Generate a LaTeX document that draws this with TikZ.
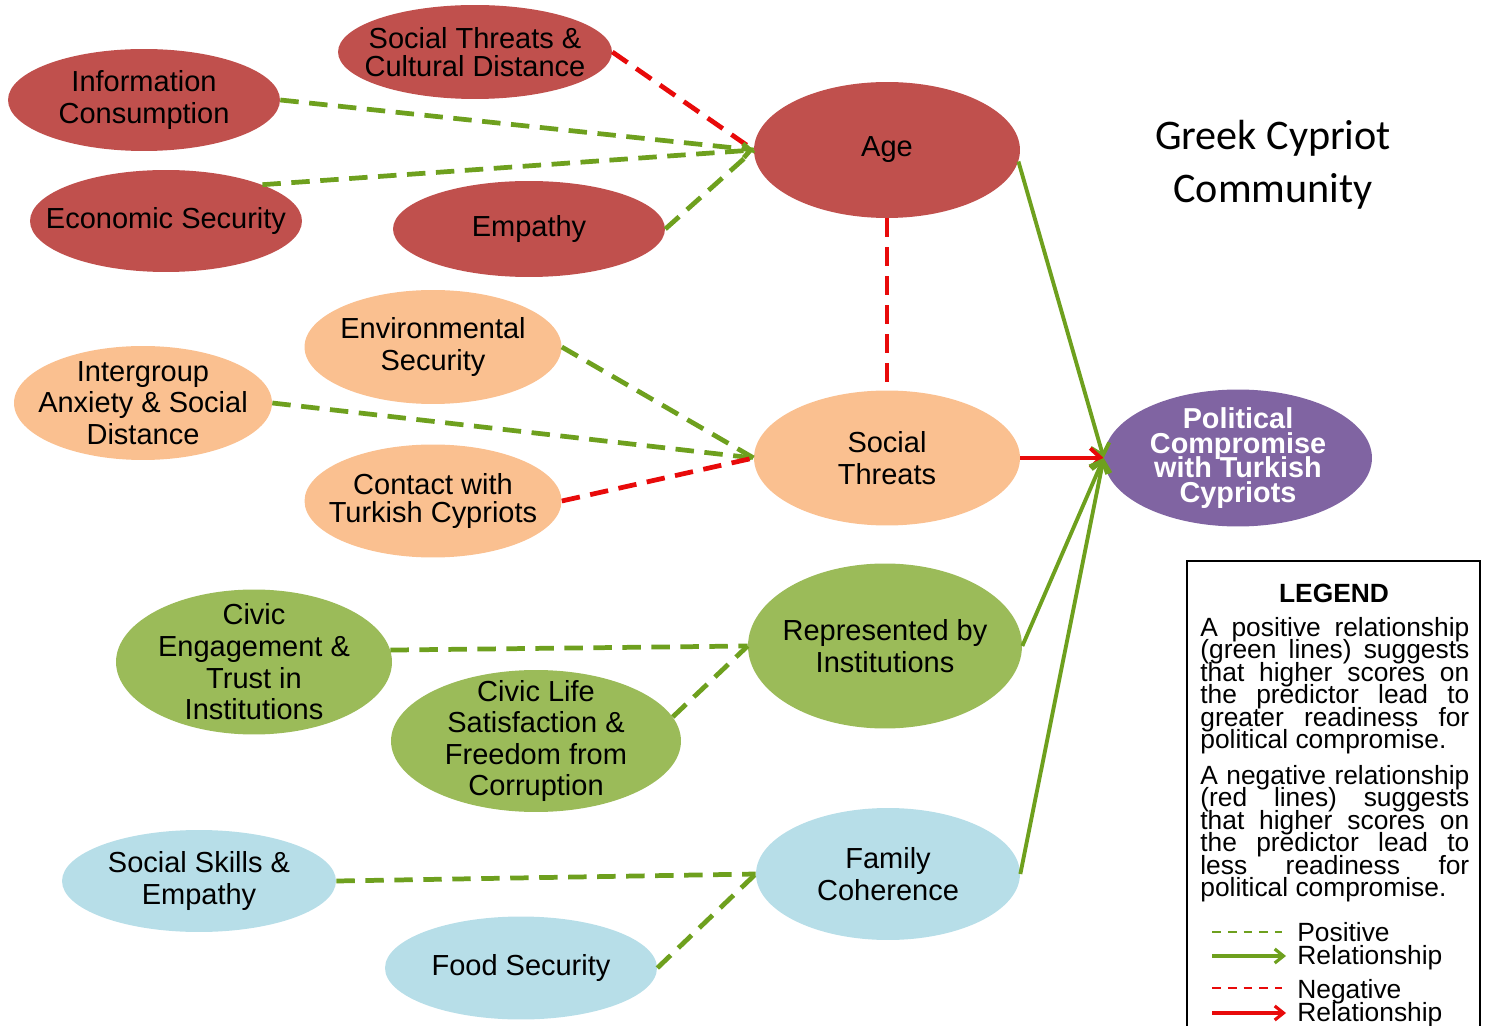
\documentclass[tikz,border=0pt]{standalone}
\usepackage{fontspec}
\setmainfont{Liberation Sans}
\newfontfamily\titlefont{Carlito}
\usetikzlibrary{shapes.geometric,arrows.meta}

\definecolor{nodered}{HTML}{C0504D}
\definecolor{nodeorange}{HTML}{FAC090}
\definecolor{nodegreen}{HTML}{9BBB59}
\definecolor{nodeblue}{HTML}{B7DEE8}
\definecolor{nodepurple}{HTML}{8064A2}
\definecolor{posline}{RGB}{110,160,30}
\definecolor{negline}{RGB}{232,10,10}

% let lines sit closer than their letters allow
\newcommand{\tightlines}{\lineskiplimit=-20pt\relax\lineskip=0pt\relax}

\begin{document}
\begin{tikzpicture}[x=0.02cm, y=-0.02cm,
    blob/.style={ellipse, inner sep=0pt},
    lbl/.style={font=\fontsize{16.5}{18}\selectfont, align=center},
    posdash/.style={draw=posline, line width=2.7pt, dash pattern=on 10.5pt off 6pt},
    negdash/.style={draw=negline, line width=2.7pt, dash pattern=on 10.5pt off 6pt},
    posarrow/.style={draw=posline, line width=2.2pt, -{Straight Barb[length=6pt,width=11pt]}},
    negarrow/.style={draw=negline, line width=2.2pt, -{Straight Barb[length=6pt,width=11pt]}},
    legtext/.style={text width=5.38cm, align=justify, inner sep=0pt,
      font=\fontsize{15}{12.8}\selectfont\tightlines},
    keytext/.style={align=left, inner sep=0pt,
      font=\fontsize{15}{12.8}\selectfont\tightlines}]
  \useasboundingbox (0,0) rectangle (1490,1026);

  % predictors of age
  \node[blob, fill=nodered, minimum width=5.48cm, minimum height=1.88cm,
    label={[lbl, font=\fontsize{16.5}{16}\selectfont]center:Social Threats \&\\Cultural Distance}] (stcd) at (475,52) {};
  \node[blob, fill=nodered, minimum width=5.44cm, minimum height=2.04cm,
    label={[lbl]center:Information\\Consumption}] (info) at (144,100) {};
  \node[blob, fill=nodered, minimum width=5.44cm, minimum height=2.04cm,
    label={[lbl]center:Economic Security}] (econ) at (166,221) {};
  \node[blob, fill=nodered, minimum width=5.44cm, minimum height=1.92cm,
    label={[lbl]center:Empathy}] (emp) at (529,229) {};
  \node[blob, fill=nodered, minimum width=5.32cm, minimum height=2.72cm,
    label={[lbl]center:Age}] (age) at (887,150) {};

  % social threats group
  \node[blob, fill=nodeorange, minimum width=5.14cm, minimum height=2.28cm,
    label={[lbl]center:Environmental\\Security}] (env) at (433,347) {};
  \node[blob, fill=nodeorange, minimum width=5.16cm, minimum height=2.28cm,
    label={[lbl]center:Intergroup\\Anxiety \& Social\\Distance}] (anx) at (143,403) {};
  \node[blob, fill=nodeorange, minimum width=5.14cm, minimum height=2.26cm,
    label={[lbl, font=\fontsize{16.5}{16}\selectfont]center:Contact with\\Turkish Cypriots}] (contact) at (433,501) {};
  \node[blob, fill=nodeorange, minimum width=5.32cm, minimum height=2.70cm,
    label={[lbl]center:Social\\Threats}] (threat) at (887,458) {};

  % outcome
  \node[blob, fill=nodepurple, minimum width=5.36cm, minimum height=2.74cm,
    label={[lbl, text=white, font=\bfseries\fontsize{16.4}{14}\selectfont\tightlines]center:Political\\Compromise\\with Turkish\\Cypriots}] (pol) at (1238,458) {};

  % institutions group
  \node[blob, fill=nodegreen, minimum width=5.52cm, minimum height=2.90cm,
    label={[lbl]center:Civic\\Engagement \&\\Trust in\\Institutions}] (civeng) at (254,662) {};
  \node[blob, fill=nodegreen, minimum width=5.80cm, minimum height=2.84cm,
    label={[lbl]center:Civic Life\\Satisfaction \&\\Freedom from\\Corruption}] (civlife) at (536,741) {};
  \node[blob, fill=nodegreen, minimum width=5.48cm, minimum height=3.30cm,
    label={[lbl]center:Represented by\\Institutions}] (repr) at (885,646) {};

  % family group
  \node[blob, fill=nodeblue, minimum width=5.48cm, minimum height=2.04cm,
    label={[lbl]center:Social Skills \&\\Empathy}] (skills) at (199,881) {};
  \node[blob, fill=nodeblue, minimum width=5.44cm, minimum height=2.06cm,
    label={[lbl]center:Food Security}] (food) at (521,968) {};
  \node[blob, fill=nodeblue, minimum width=5.28cm, minimum height=2.64cm,
    label={[lbl]center:Family\\Coherence}] (family) at (888,874) {};

  % dashed links
  \draw[negdash] (stcd.east) -- (age.west);
  \draw[posdash] (info.east) -- (age.west);
  \draw[posdash, -{Straight Barb[length=4pt,width=8pt]}] (econ.north east) -- (age.west);
  \draw[posdash] (emp.east) -- (age.west);
  \draw[negdash] (age.south) -- (threat.north);
  \draw[posdash] (env.east) -- (threat.west);
  \draw[posdash] (anx.east) -- (threat.west);
  \draw[negdash] (contact.east) -- (threat.west);
  \draw[posdash] (civeng.5) -- (repr.west);
  \draw[posdash] (civlife.10) -- (repr.west);
  \draw[posdash] (skills.east) -- (family.west);
  \draw[posdash] (food.east) -- (family.west);

  % solid links into the outcome
  \draw[posarrow] (age.-5) -- (pol.west);
  \draw[negarrow] (threat.east) -- (pol.west);
  \draw[posarrow] (repr.east) -- (pol.west);
  \draw[posarrow] (family.east) -- (pol.west);

  \node[font=\titlefont\fontsize{24}{30}\selectfont, align=center] (title) at (1273,165) {Greek Cypriot\\Community};

  % legend
  \draw[line width=1.2pt] (1187,1030) -- (1187,561) -- (1480,561) -- (1480,1030);
  \node[font=\bfseries\fontsize{15}{15}\selectfont] (legend) at (1334,593) {LEGEND};
  \node[legtext, anchor=north west] (legpos) at (1200,617) {A positive relationship\linebreak
    (green lines) suggests\linebreak that higher scores on\linebreak the predictor lead to\linebreak
    greater readiness for\linebreak political compromise.};
  \node[legtext, anchor=north west] (legneg) at (1200,765) {A negative relationship\linebreak
    (red lines) suggests\linebreak that higher scores on\linebreak the predictor lead to\linebreak
    less readiness for\linebreak political compromise.};

  \coordinate (kpa) at (1212,932);  \coordinate (kpb) at (1282,932);
  \coordinate (kpc) at (1212,956);  \coordinate (kpd) at (1286,956);
  \coordinate (kna) at (1212,988);  \coordinate (knb) at (1282,988);
  \coordinate (knc) at (1212,1013); \coordinate (knd) at (1286,1013);
  \draw[posline, line width=1.3pt, dash pattern=on 5pt off 4pt] (kpa) -- (kpb);
  \draw[posline, line width=1.8pt, -{Straight Barb[length=5pt,width=8pt]}] (kpc) -- (kpd);
  \draw[negline, line width=1.3pt, dash pattern=on 5pt off 4pt] (kna) -- (knb);
  \draw[negline, line width=1.8pt, -{Straight Barb[length=5pt,width=8pt]}] (knc) -- (knd);
  \node[keytext, anchor=west] (kpos) at (1297,946) {Positive\\Relationship};
  \node[keytext, anchor=west] (kneg) at (1297,1003) {Negative\\Relationship};
\end{tikzpicture}
\end{document}
